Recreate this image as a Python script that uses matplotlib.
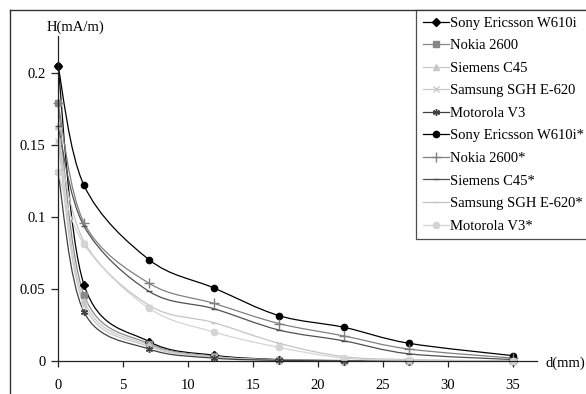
import matplotlib
matplotlib.use("Agg")
import matplotlib.pyplot as plt
import numpy as np
from matplotlib.path import Path
from matplotlib.patches import PathPatch
from matplotlib.lines import Line2D
from matplotlib.ticker import FuncFormatter

plt.rcParams['font.family'] = ['Liberation Serif', 'DejaVu Serif']

# distance from the phone, mm
d = [0, 2, 7, 12, 17, 22, 27, 35]

# H field (mA/m)
sony = [0.205, 0.053, 0.0135, 0.004, 0.001, 0.0003, 0.0001, 0.0]
nokia = [0.179, 0.046, 0.012, 0.0033, 0.0008, 0.0002, 0.0001, 0.0]
siemens = [0.163, 0.042, 0.011, 0.003, 0.0007, 0.0002, 0.0001, 0.0]
samsung = [0.153, 0.039, 0.010, 0.0027, 0.0006, 0.0002, 0.0001, 0.0]
motorola = [0.131, 0.034, 0.0083, 0.002, 0.0005, 0.0001, 0.0, 0.0]
sony_s = [0.205, 0.122, 0.0704, 0.0507, 0.0315, 0.0234, 0.0123, 0.0037]
nokia_s = [0.179, 0.096, 0.054, 0.040, 0.026, 0.0174, 0.0083, 0.002]
siemens_s = [0.163, 0.0937, 0.0484, 0.0363, 0.0215, 0.014, 0.005, 0.001]
samsung_s = [0.153, 0.083, 0.0387, 0.0266, 0.0123, 0.003, 0.001, 0.0]
motorola_s = [0.131, 0.081, 0.0366, 0.0201, 0.0095, 0.002, 0.0005, 0.0]

labels = ["Sony Ericsson W610i", "Nokia 2600", "Siemens C45",
          "Samsung SGH E-620", "Motorola V3", "Sony Ericsson W610i*",
          "Nokia 2600*", "Siemens C45*", "Samsung SGH E-620*", "Motorola V3*"]
series = [sony, nokia, siemens, samsung, motorola,
          sony_s, nokia_s, siemens_s, samsung_s, motorola_s]

colors = ['#000000', '#888888', '#c8c8c8', '#c8c8c8', '#404040',
          '#000000', '#808080', '#505050', '#c4c4c4', '#d4d4d4']
markers = ['D', 's', '^', 'x', (6, 2, 0), 'o', '+', '_', '_', 'o']
msizes = [4, 4.5, 4.5, 4.5, 5, 4.5, 7, 5, 5, 4.5]


def smooth_path(x, y):
    # excel-style smoothed line: bezier segments with catmull-rom tangents
    pts = np.column_stack([x, y]).astype(float)
    n = len(pts)
    verts = [pts[0]]
    codes = [Path.MOVETO]
    for i in range(n - 1):
        p0 = pts[max(i - 1, 0)]
        p1 = pts[i]
        p2 = pts[i + 1]
        p3 = pts[min(i + 2, n - 1)]
        c1 = p1 + (p2 - p0) / 6.0
        c2 = p2 - (p3 - p1) / 6.0
        verts += [c1, c2, p2]
        codes += [Path.CURVE4] * 3
    return Path(verts, codes)


fig = plt.figure(figsize=(5.86, 3.94), dpi=100)
W, H = 586.0, 394.0
ax = fig.add_axes([58 / W, 1 - 361 / H, (537 - 58) / W, (361 - 36) / H])

for vals, c, m, ms in zip(series, colors, markers, msizes):
    ax.add_patch(PathPatch(smooth_path(d, vals), fill=False, edgecolor=c,
                           linewidth=0.9))
    ax.plot(d, vals, linestyle='none', marker=m, color=c, markersize=ms,
            markeredgewidth=1.0, clip_on=False)

ax.set_xlim(0, 36.85)
ax.set_ylim(0, 0.2257)
ax.set_xticks([0, 5, 10, 15, 20, 25, 30, 35])
ax.set_yticks([0, 0.05, 0.1, 0.15, 0.2])
ax.yaxis.set_major_formatter(FuncFormatter(lambda v, p: '%g' % v))
for s in ['top', 'right']:
    ax.spines[s].set_visible(False)
for s in ['left', 'bottom']:
    ax.spines[s].set_linewidth(0.9)
    ax.spines[s].set_color('#222222')
ax.tick_params(axis='x', direction='out', length=4, pad=9, labelsize=10.5,
               width=0.9, color='#222222')
ax.tick_params(axis='y', direction='out', length=5, pad=4, labelsize=10.5,
               width=0.9, color='#222222')
ax.patch.set_alpha(0)

fig.text(47 / W, 1 - 27 / H, "H(mA/m)", fontsize=10.5, ha='left', va='center')
fig.text(545 / W, 1 - 363 / H, "d(mm)", fontsize=10.5, ha='left', va='center')

# chart area border (cropped at right and bottom)
fig.add_artist(Line2D([10 / W, 10 / W], [0, 1 - 9.7 / H], color='#333333',
                      linewidth=1.0))
fig.add_artist(Line2D([10 / W, 1], [1 - 9.7 / H, 1 - 9.7 / H],
                      color='#333333', linewidth=1.0))

handles = [Line2D([], [], color=c, marker=m, markersize=ms, linewidth=0.9,
                  markeredgewidth=1.0)
           for c, m, ms in zip(colors, markers, msizes)]
leg = fig.legend(handles, labels, loc='upper left',
                 bbox_to_anchor=(416 / W, 1 - 10 / H), fontsize=10.5,
                 frameon=True, fancybox=False, borderpad=0.45,
                 labelspacing=0.64, handlelength=1.8, handletextpad=0.1,
                 borderaxespad=0)
leg.get_frame().set_edgecolor('#222222')
leg.get_frame().set_linewidth(0.9)

fig.savefig("out.png", dpi=100)
